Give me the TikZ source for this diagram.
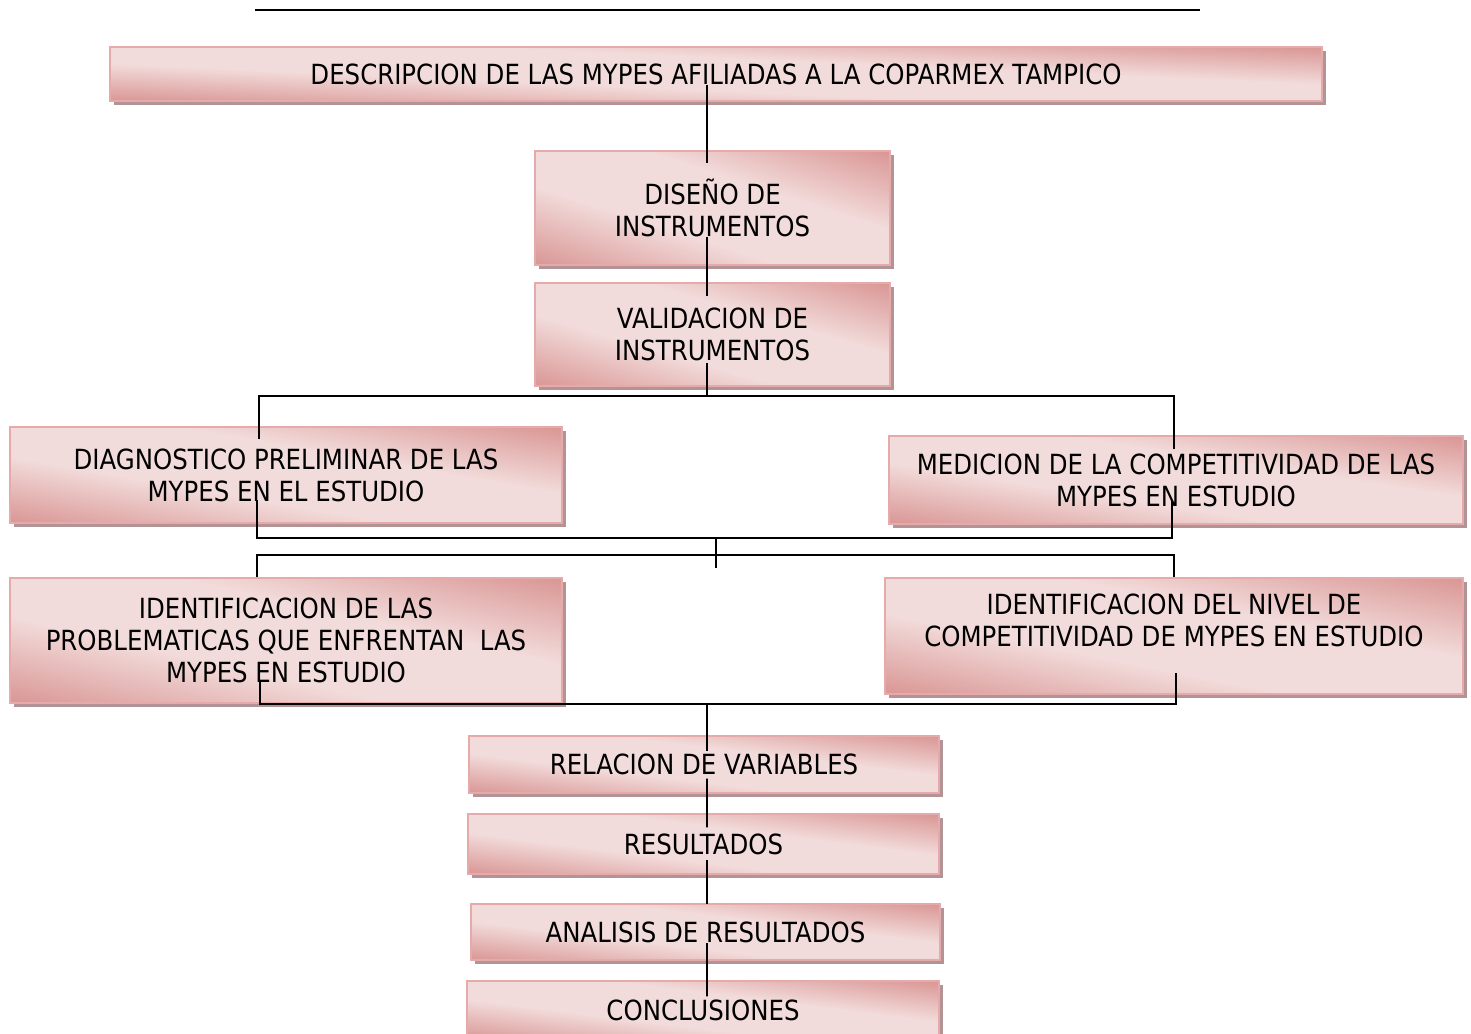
\documentclass[tikz,border=0pt]{standalone}
\usepackage{fontspec}
\setmainfont[FakeStretch=0.88]{DejaVu Sans}
\usepackage{xcolor}
\usetikzlibrary{positioning, calc, shadows}

\definecolor{pinkline}{RGB}{230,170,170}
\definecolor{shadowgray}{RGB}{178,148,150}

% light band on the diagonal, dark towards bottom-left and top-right
\pgfdeclarefunctionalshading{pinkdiag}{\pgfpoint{0bp}{0bp}}{\pgfpoint{100bp}{100bp}}{}{
  add 50 div 2 sub abs 0.3 sub 0.7 div
  dup 0 lt {pop 0} if dup 1 gt {pop 1} if
  dup -0.098 mul 0.949 add exch dup -0.275 mul 0.863 add exch -0.279 mul 0.859 add}

\tikzset{
  stage/.style={draw=pinkline, line width=0.8pt, inner sep=0pt, align=center,
    shading=pinkdiag,
    general shadow={fill=shadowgray, shadow xshift=0.08cm, shadow yshift=-0.08cm},
    font=\fontsize{15.8}{18.2}\selectfont},
  size/.style 2 args={minimum width=#1*0.02cm, minimum height=#2*0.02cm},
  link/.style={draw=black, line width=1pt}
}

\begin{document}
\begin{tikzpicture}[x=0.02cm, y=-0.02cm]
  \fill[white] (0,0) rectangle (1471,1034);
  \useasboundingbox (0,0) rectangle (1471,1034);

  % Rule on top
  \coordinate (ruleL) at (255,10);
  \coordinate (ruleR) at (1200,10);
  \draw[link] (ruleL) -- (ruleR);

  % Stages
  \node[stage, size={1212}{54}] (desc) at (716,74) {DESCRIPCION DE LAS MYPES AFILIADAS A LA COPARMEX TAMPICO};
  \node[stage, size={355}{114}] (disen) at (712.5,208) {DISEÑO DE\\INSTRUMENTOS};
  \node[stage, size={355}{103}] (valid) at (712.5,334.5) {VALIDACION DE\\INSTRUMENTOS};
  \node[stage, size={552}{96}] (diag) at (286,475) {DIAGNOSTICO PRELIMINAR DE LAS\\MYPES EN EL ESTUDIO};
  \node[stage, size={574}{88}] (medic) at (1176,480) {MEDICION DE LA COMPETITIVIDAD DE LAS\\MYPES EN ESTUDIO};
  \node[stage, size={552}{125}] (identl) at (286,640.5) {IDENTIFICACION DE LAS\\PROBLEMATICAS QUE ENFRENTAN\ \ LAS\\MYPES EN ESTUDIO};
  \node[stage, size={578}{116}] (identr) at (1174,636) {IDENTIFICACION DEL NIVEL DE\\COMPETITIVIDAD DE MYPES EN ESTUDIO\\\mbox{}};
  \node[stage, size={470}{57}] (relac) at (704,764.5) {RELACION DE VARIABLES};
  \node[stage, size={471}{60}] (result) at (703.5,844) {RESULTADOS};
  \node[stage, size={469}{56}] (analis) at (705.5,932) {ANALISIS DE RESULTADOS};
  \node[stage, size={472}{59}] (concl) at (703,1010.5) {CONCLUSIONES};

  % Upper column
  \draw[link] ($(desc.center)+(-9,11)$) -- ($(disen.north)+(-5.5,13)$);
  \draw[link] ($(disen.center)+(-5.5,29)$) -- ($(valid.north)+(-5.5,14)$);

  % First split
  \coordinate (split1) at ($(valid.south)+(-5.5,9)$);
  \draw[link] ($(valid.center)+(-5.5,28)$) -- (split1);
  \draw[link] ($(diag.north)+(-27,13)$) |- (split1) -| ($(medic.north)+(-2,14)$);

  % Join and second split
  \coordinate (join1) at (716,538);
  \coordinate (split2) at (716,555);
  \coordinate (tail1) at (716,568);
  \draw[link] ($(diag.center)+(-29,25)$) |- (join1) -| ($(medic.center)+(-4,20)$);
  \draw[link] (join1) -- (tail1);
  \draw[link] ($(identl.north)+(-29,0)$) |- (split2) -| (identr.north);

  % Second join
  \coordinate (join2) at (707,704);
  \draw[link] ($(identl.center)+(-26,40)$) |- (join2) -| ($(identr.center)+(2,37)$);

  % Lower column
  \draw[link] (join2) -- ($(relac.north)+(3,16)$);
  \draw[link] ($(relac.center)+(3,14)$) -- ($(result.north)+(3.5,14)$);
  \draw[link] ($(result.center)+(3.5,16)$) -- ($(analis.north)+(1.5,1)$);
  \draw[link] ($(analis.center)+(1.5,11)$) -- ($(concl.north)+(4,16)$);
\end{tikzpicture}
\end{document}
